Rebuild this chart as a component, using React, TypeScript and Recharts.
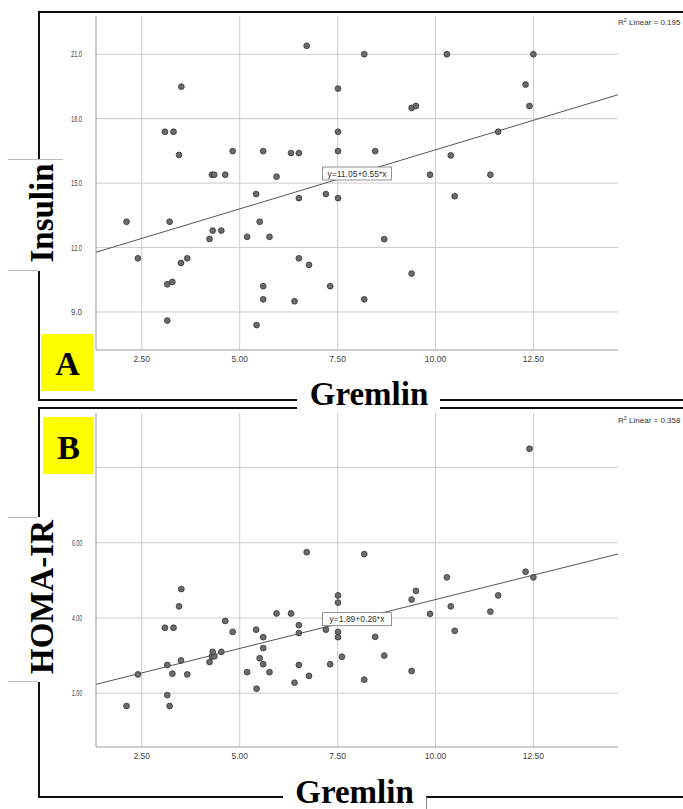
import React from "react";
import { ScatterChart, Scatter, XAxis, YAxis, CartesianGrid, ReferenceLine, ReferenceDot } from "recharts";

// Gremlin (x) shared by both panels
const gremlin = [
  2.11, 2.40, 3.09, 3.31, 3.51, 3.45, 3.21, 3.50, 3.66, 3.15, 3.28, 3.15,
  4.29, 4.35, 4.63, 4.82, 4.31, 4.53, 4.23, 5.19, 5.42, 5.51, 5.76, 5.60,
  5.94, 5.60, 5.60, 5.43, 6.31, 6.51, 6.51, 6.71, 6.51, 6.77, 6.40, 7.20,
  7.31, 7.51, 7.51, 7.51, 7.51, 7.61, 8.18, 10.29, 12.50, 12.30, 12.40, 9.39,
  9.50, 8.46, 11.60, 10.39, 9.86, 11.40, 10.49, 8.69, 9.39, 8.18,
];
const insulin = [
  13.20, 11.50, 17.39, 17.39, 19.49, 16.31, 13.20, 11.28, 11.50, 10.29, 10.40, 8.60,
  15.39, 15.39, 15.39, 16.49, 12.79, 12.79, 12.40, 12.50, 14.49, 13.20, 12.50, 16.49,
  15.30, 10.20, 9.59, 8.39, 16.40, 16.40, 14.30, 21.39, 11.50, 11.19, 9.50, 14.49,
  10.20, 19.40, 17.39, 16.49, 14.30, 15.40, 21.0, 21.0, 21.0, 19.59, 18.59, 18.50,
  18.59, 16.49, 17.39, 16.29, 15.39, 15.39, 14.39, 12.39, 10.79, 9.59,
];
const homaIr = [
  1.66, 2.50, 3.74, 3.74, 4.77, 4.31, 1.66, 2.87, 2.50, 2.75, 2.52, 1.95,
  2.98, 2.98, 3.92, 3.63, 3.10, 3.10, 2.83, 2.56, 3.69, 2.93, 2.56, 3.49,
  4.12, 3.20, 2.77, 2.12, 4.12, 3.81, 3.60, 5.75, 2.75, 2.46, 2.28, 3.69,
  2.77, 4.60, 4.41, 3.63, 3.49, 2.97, 5.70, 5.08, 5.08, 5.23, 8.50, 4.49,
  4.72, 3.50, 4.60, 4.31, 4.11, 4.17, 3.66, 3.00, 2.59, 2.36,
];

const xTicks = [2.5, 5, 7.5, 10, 12.5];
const insulinTicks = [9, 12, 15, 18, 21];
const homaTicks = [2, 4, 6, 8];
const homaHiddenLabels = [8]; // sits behind the yellow "B" tag in the figure
const xDomain = [1.33, 14.66];

const insulinFit = { a: 11.05, b: 0.55, r2: "0.195" };
const homaFit = { a: 1.89, b: 0.26, r2: "0.358" };

const sans = "'Liberation Sans', Arial, sans-serif";
const serif = "'Liberation Serif', 'Times New Roman', serif";

const Dot = (p: any) => (
  <circle cx={p.cx} cy={p.cy} r={2.9} fill="#6c6c6c" stroke="#333" strokeWidth={0.8} />
);

const Panel = ({ top, ys, yDomain, yTicks, digits, fit, yLabelLen, hidden = [] }: any) => {
  const data = gremlin.map((x, i) => ({ x, y: ys[i] }));
  const mid = (xDomain[0] + xDomain[1]) / 2;
  const eq = `y=${fit.a.toFixed(2)}+${fit.b.toFixed(2)}*x`;

  const XTick = ({ x, y, payload }: any) => (
    <text x={x} y={y} textAnchor="middle" fontSize={8.5} fontFamily={sans} fill="#444">
      {payload.value.toFixed(2)}
    </text>
  );
  const YTick = ({ x, y, payload }: any) =>
    hidden.includes(payload.value) ? <g /> : (
      <text x={x} y={y + 3} textAnchor="end" fontSize={9} fontFamily={sans} fill="#444"
        textLength={yLabelLen} lengthAdjust="spacingAndGlyphs">
        {payload.value.toFixed(digits)}
      </text>
    );
  const EqLabel = ({ cx, cy }: any) => (
    <g>
      <rect x={cx - 34.5} y={cy - 6.5} width={69} height={13} fill="#fff" stroke="#777" strokeWidth={0.8} />
      <text x={cx} y={cy + 3} textAnchor="middle" fontSize={8.5} fontFamily={sans} fill="#333">{eq}</text>
    </g>
  );

  return (
    <div style={{ position: "absolute", left: 0, top, width: 683, height: 380 }}>
      <ScatterChart width={683} height={380} margin={{ top: 16, right: 65, bottom: 10, left: 56 }}>
        <CartesianGrid stroke="#cdcdcd" syncWithTicks />
        <XAxis type="number" dataKey="x" domain={xDomain} ticks={xTicks} allowDataOverflow
          height={20} tickSize={0} tickMargin={12} tickLine={false}
          axisLine={{ stroke: "#999" }} tick={<XTick />} />
        <YAxis type="number" dataKey="y" domain={yDomain} ticks={yTicks} allowDataOverflow
          width={40} tickSize={0} tickMargin={14} tickLine={false}
          axisLine={{ stroke: "#999" }} tick={<YTick />} />
        <Scatter data={data} shape={<Dot />} isAnimationActive={false} />
        <ReferenceLine
          segment={[
            { x: xDomain[0], y: fit.a + fit.b * xDomain[0] },
            { x: xDomain[1], y: fit.a + fit.b * xDomain[1] },
          ]}
          stroke="#555" strokeWidth={1} ifOverflow="visible"
        />
        <ReferenceDot x={mid} y={fit.a + fit.b * mid} r={0} shape={<EqLabel />} />
      </ScatterChart>
      <svg width={683} height={40} style={{ position: "absolute", left: 0, top: 0 }}>
        <text x={618} y={top === 0 ? 25 : 26} fontSize={8} fontFamily={sans} fill="#333">
          R<tspan fontSize={5.5} dy={-3}>2</tspan><tspan dy={3}> Linear = {fit.r2}</tspan>
        </text>
      </svg>
    </div>
  );
};

export default function App() {
  const ink = "#111";
  return (
    <div style={{ position: "absolute", left: 0, top: 0, width: 683, height: 809, background: "#fff" }}>
      <Panel top={0} ys={insulin} yDomain={[7.23, 22.78]} yTicks={insulinTicks} digits={1}
        fit={insulinFit} yLabelLen={11} />
      <Panel top={397} ys={homaIr} yDomain={[0.57, 9.45]} yTicks={homaTicks} digits={2}
        fit={homaFit} yLabelLen={10} hidden={homaHiddenLabels} />
      <svg width={683} height={809} style={{ position: "absolute", left: 0, top: 0, pointerEvents: "none" }}>
        {/* panel A frame */}
        <line x1={38} y1={12} x2={683} y2={12} stroke={ink} strokeWidth={2} />
        <line x1={39} y1={11} x2={39} y2={159} stroke={ink} strokeWidth={2} />
        <line x1={8} y1={159.5} x2={63} y2={159.5} stroke="#bbb" strokeWidth={1} />
        <line x1={8} y1={270.5} x2={38} y2={270.5} stroke="#bbb" strokeWidth={1} />
        <line x1={39} y1={271} x2={39} y2={401} stroke={ink} strokeWidth={2} />
        <line x1={38} y1={400} x2={297} y2={400} stroke={ink} strokeWidth={2} />
        <line x1={440} y1={400} x2={683} y2={400} stroke={ink} strokeWidth={2} />
        {/* panel B frame */}
        <line x1={38} y1={408} x2={297} y2={408} stroke={ink} strokeWidth={2} />
        <line x1={440} y1={408} x2={683} y2={408} stroke={ink} strokeWidth={2} />
        <line x1={39} y1={407} x2={39} y2={517} stroke={ink} strokeWidth={2} />
        <line x1={8} y1={517.5} x2={38} y2={517.5} stroke="#bbb" strokeWidth={1} />
        <line x1={8} y1={681.5} x2={38} y2={681.5} stroke="#bbb" strokeWidth={1} />
        <line x1={39} y1={682} x2={39} y2={798} stroke={ink} strokeWidth={2} />
        <line x1={38} y1={797} x2={283} y2={797} stroke={ink} strokeWidth={2} />
        <line x1={426} y1={797} x2={683} y2={797} stroke={ink} strokeWidth={2} />
        <line x1={426.5} y1={797} x2={426.5} y2={809} stroke="#888" strokeWidth={1} />

        {/* yellow panel tags */}
        <rect x={41} y={334} width={53} height={57} fill="#ffff00" />
        <text x={67.5} y={375} textAnchor="middle" fontSize={34} fontWeight="bold" fontFamily={serif} fill="#000">A</text>
        <rect x={43} y={417} width={51} height={57} fill="#ffff00" />
        <text x={68.5} y={459} textAnchor="middle" fontSize={34} fontWeight="bold" fontFamily={serif} fill="#000">B</text>

        {/* axis titles */}
        <text transform="translate(53,213) rotate(-90)" textAnchor="middle" fontSize={33} fontWeight="bold" fontFamily={serif} fill="#000">Insulin</text>
        <text x={369} y={405} textAnchor="middle" fontSize={33} fontWeight="bold" fontFamily={serif} fill="#000">Gremlin</text>
        <text transform="translate(53,597) rotate(-90)" textAnchor="middle" fontSize={33} fontWeight="bold" fontFamily={serif} fill="#000">HOMA-IR</text>
        <text x={354.5} y={803} textAnchor="middle" fontSize={33} fontWeight="bold" fontFamily={serif} fill="#000">Gremlin</text>
      </svg>
    </div>
  );
}
